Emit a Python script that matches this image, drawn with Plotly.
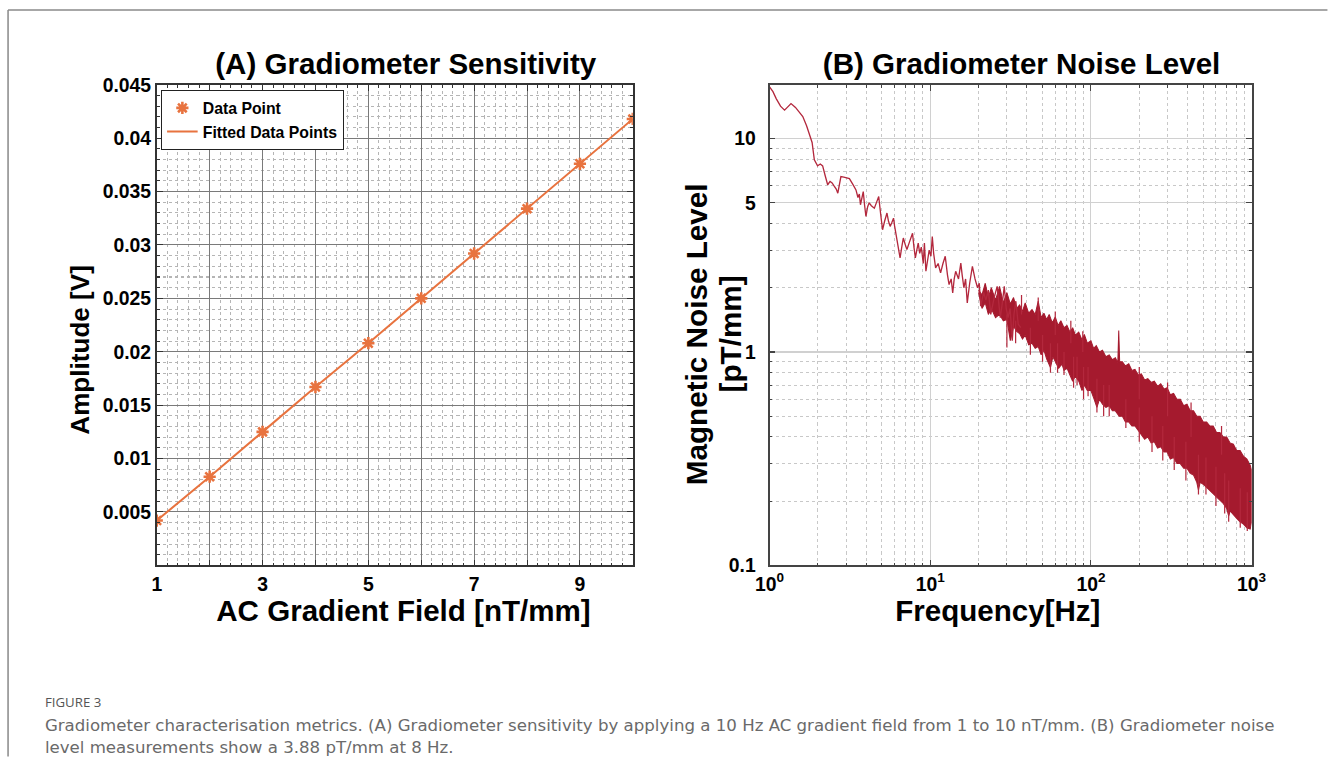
import plotly.graph_objects as go

# ---------------- data ----------------
# (A) sensitivity
field_nt_mm = [1, 2, 3, 4, 5, 6, 7, 8, 9, 10]
amplitude_v = [0.0042, 0.0083, 0.0125, 0.0167, 0.0208, 0.0250, 0.0292, 0.0334, 0.0376, 0.0418]

x_tickvals_a = [1, 2, 3, 4, 5, 6, 7, 8, 9, 10]
x_ticktext_a = ["1", "", "3", "", "5", "", "7", "", "9", ""]
y_tickvals_a = [0.005, 0.01, 0.015, 0.02, 0.025, 0.03, 0.035, 0.04, 0.045]
y_ticktext_a = ["0.005", "0.01", "0.015", "0.02", "0.025", "0.03", "0.035", "0.04", "0.045"]

# (B) noise spectrum - low frequency trace (single line)
freq_low = [1.0, 1.05, 1.1, 1.17, 1.24, 1.30, 1.36, 1.45, 1.53, 1.61, 1.70, 1.77, 1.84, 1.90, 1.95,
            1.99, 2.07, 2.14, 2.22, 2.30, 2.38, 2.45, 2.52, 2.60, 2.66, 2.72, 2.78, 2.90, 3.02, 3.14,
            3.30, 3.45, 3.55, 3.62, 3.68, 3.76, 3.83, 3.90, 3.98, 4.08, 4.17, 4.30, 4.49, 4.62, 4.78,
            4.92, 5.05, 5.20, 5.38, 5.50, 5.63, 5.77, 5.91, 6.00, 6.11, 6.30, 6.49, 6.65, 6.80, 6.98,
            7.16, 7.45, 7.76, 7.92, 8.08, 8.25, 8.42, 8.60, 8.80, 9.05, 9.2, 9.4, 9.6, 9.85, 10.1,
            10.3, 10.5, 10.8, 11.2, 11.6, 12.0, 12.4, 12.8, 13.1, 13.5, 13.8, 14.1, 14.4, 15.0, 15.5,
            15.8, 16.2, 16.6, 17.0, 17.6, 18.3, 19.0, 19.7, 20.2, 20.6, 21.5, 22.2, 23.0, 23.8, 25.0,
            26.1, 26.7, 27.3, 28.1, 28.9, 29.7, 30.5, 31.4, 32.4, 33.2, 34.1, 35.3, 36.6]
noise_low = [17.5, 16.6, 15.4, 14.2, 13.6, 14.1, 14.6, 14.0, 13.3, 12.7, 11.5, 10.4, 9.6, 7.95, 7.6,
             7.45, 7.6, 7.45, 6.7, 6.08, 6.3, 6.2, 6.0, 5.8, 5.55, 6.2, 6.64, 6.6, 6.55, 6.5,
             6.1, 5.75, 5.3, 5.5, 4.9, 5.4, 5.65, 4.9, 4.32, 4.8, 5.0, 4.85, 4.72, 5.0, 5.35,
             4.4, 3.74, 4.1, 4.48, 4.1, 3.88, 4.05, 4.24, 3.9, 3.6, 3.1, 2.76, 3.1, 3.42, 3.2,
             3.02, 3.3, 3.6, 3.1, 2.76, 3.0, 3.24, 2.9, 3.1, 2.6, 3.24, 2.39, 2.61, 3.0, 2.81,
             3.48, 2.9, 2.48, 2.6, 2.35, 2.6, 2.81, 2.3, 2.07, 2.2, 1.89, 2.2, 2.39, 2.2, 2.61,
             2.3, 2.0, 2.2, 1.70, 2.1, 2.52, 2.2, 2.0, 2.1, 1.64, 1.9, 1.75, 1.95, 1.50, 1.8,
             2.03, 1.7, 1.45, 1.7, 2.03, 1.6, 1.45, 1.6, 1.13, 1.5, 1.73, 1.35, 1.30]

# (B) dense noise band, upper envelope (ascending freq)
freq_band_upper = [20, 21, 22, 23, 24, 25.5, 27, 28.5, 30, 31.5, 33, 34.5, 36, 37.5, 39, 41, 43, 45,
                   47, 49, 51, 53, 55, 57.5, 60, 62.5, 65, 68, 71, 74, 77, 80, 84, 88, 91, 95, 100,
                   104, 108, 113, 118, 124, 130, 136, 142, 147, 149, 151, 157, 164, 172, 180, 188,
                   197, 206, 216, 226, 237, 248, 260, 272, 285, 298, 312, 327, 343, 360, 378, 396,
                   415, 435, 456, 478, 500, 525, 550, 577, 605, 635, 666, 700, 735, 770, 808, 848,
                   890, 935, 980, 1000]
noise_band_upper = [1.95, 1.85, 2.1, 1.8, 2.0, 1.75, 2.03, 1.7, 1.9, 1.68, 1.8, 1.6, 1.66, 1.55, 1.7,
                    1.52, 1.58, 1.5, 1.73, 1.45, 1.52, 1.42, 1.5, 1.37, 1.46, 1.33, 1.4, 1.3, 1.33,
                    1.24, 1.3, 1.2, 1.24, 1.14, 1.21, 1.1, 1.13, 1.04, 1.07, 1.0, 1.02, 0.95, 0.97,
                    0.92, 0.94, 0.89, 1.26, 0.9, 0.9, 0.86, 0.88, 0.82, 0.83, 0.78, 0.79, 0.74, 0.75,
                    0.72, 0.73, 0.69, 0.71, 0.67, 0.68, 0.63, 0.64, 0.6, 0.6, 0.56, 0.57, 0.53, 0.53,
                    0.5, 0.5, 0.47, 0.47, 0.45, 0.45, 0.42, 0.42, 0.4, 0.4, 0.375, 0.37, 0.345, 0.345,
                    0.325, 0.315, 0.295, 0.28]
# lower envelope (ascending freq)
freq_band_lower = [20, 21, 22, 23, 24, 25.5, 27, 28.5, 30, 31.5, 33, 34.5, 36, 37.5, 39, 41, 43, 45,
                   47, 49, 51, 53, 56, 58, 60, 63, 66, 68, 71, 74, 77, 80, 84, 88, 91, 95, 100, 104,
                   109, 113, 118, 124, 130, 136, 142, 150, 157, 164, 172, 180, 188, 197, 206, 216,
                   226, 237, 248, 260, 272, 285, 298, 312, 327, 343, 360, 378, 396, 415, 435, 456,
                   467, 478, 500, 525, 550, 577, 605, 635, 666, 700, 720, 735, 770, 808, 848, 890,
                   935, 980, 1000]
noise_band_lower = [1.9, 1.6, 1.7, 1.5, 1.6, 1.45, 1.5, 1.4, 1.42, 1.13, 1.32, 1.25, 1.22, 1.15, 1.2,
                    1.08, 1.1, 1.04, 1.06, 0.97, 1.02, 0.93, 0.845, 0.95, 0.91, 0.84, 0.88, 0.82, 0.84,
                    0.78, 0.73, 0.77, 0.73, 0.66, 0.7, 0.66, 0.66, 0.61, 0.55, 0.6, 0.57, 0.55, 0.56,
                    0.53, 0.53, 0.5, 0.5, 0.47, 0.47, 0.45, 0.45, 0.43, 0.41, 0.39, 0.4, 0.375, 0.38,
                    0.355, 0.36, 0.34, 0.34, 0.315, 0.32, 0.3, 0.3, 0.285, 0.285, 0.27, 0.265, 0.245,
                    0.225, 0.245, 0.24, 0.232, 0.225, 0.217, 0.21, 0.202, 0.195, 0.185, 0.17, 0.18, 0.172,
                    0.166, 0.16, 0.156, 0.15, 0.148, 0.16]

# (B) isolated noise spikes that stick out of the band
spike_freq = [30, 34, 37, 42, 47, 50, 56, 60, 62, 68, 75, 78, 82, 89, 90, 96, 109, 120, 130, 165,
              200, 200, 240, 280, 300, 330, 390, 420, 467, 520, 600, 650, 680, 720, 850, 940]
spike_from = [1.5, 1.4, 1.5, 1.3, 1.4, 1.2, 1.1, 1.2, 1.1, 1.0, 1.1, 0.95, 0.95, 1.0, 0.85, 0.85,
              0.75, 0.7, 0.7, 0.6, 0.55, 0.6, 0.5, 0.45, 0.5, 0.4, 0.38, 0.4, 0.33, 0.32, 0.29, 0.33,
              0.27, 0.25, 0.23, 0.22]
spike_to = [1.05, 1.1, 1.85, 0.97, 1.8, 0.9, 0.8, 1.55, 0.8, 0.78, 1.4, 0.68, 0.7, 1.25, 0.6, 0.62,
            0.52, 0.5, 0.5, 0.44, 0.38, 0.85, 0.34, 0.31, 0.72, 0.28, 0.25, 0.58, 0.215, 0.215,
            0.19, 0.45, 0.175, 0.16, 0.15, 0.145]

x_tickvals_b = [1, 10, 100, 1000]
x_ticktext_b = ["10<sup>0</sup>", "10<sup>1</sup>", "10<sup>2</sup>", "10<sup>3</sup>"]
y_tickvals_b = [0.1, 1, 5, 10]
y_ticktext_b = ["0.1", "1", "5", "10"]

# ---------------- styling ----------------
W, H = 1329, 758
FONT = "Liberation Sans, Arial, sans-serif"
ORANGE = "#E8733F"
RED_LINE = "#B3283D"
RED_BAND = "#A51A2E"


def px_x(p):
    return p / W


def px_y(p):
    return 1 - p / H


fig = go.Figure()

# (A)
fig.add_trace(go.Scatter(x=field_nt_mm, y=amplitude_v, mode="lines", name="Fitted Data Points",
                         line=dict(color=ORANGE, width=2), xaxis="x", yaxis="y", showlegend=False))
fig.add_trace(go.Scatter(x=field_nt_mm, y=amplitude_v, mode="markers", name="Data Point",
                         marker=dict(symbol="asterisk-open", size=10, color=ORANGE,
                                     line=dict(color=ORANGE, width=2.5)),
                         xaxis="x", yaxis="y"))
fig.add_trace(go.Scatter(x=[None], y=[None], mode="lines", name="Fitted Data Points",
                         line=dict(color=ORANGE, width=2), xaxis="x", yaxis="y"))

# (B) band polygon
band_x = freq_band_upper + freq_band_lower[::-1]
band_y = noise_band_upper + noise_band_lower[::-1]
fig.add_trace(go.Scatter(x=band_x, y=band_y, mode="lines", fill="toself", fillcolor=RED_BAND,
                         line=dict(color=RED_BAND, width=1), xaxis="x2", yaxis="y2",
                         showlegend=False, hoverinfo="skip"))
sx, sy = [], []
for f, a, b in zip(spike_freq, spike_from, spike_to):
    sx += [f, f, None]
    sy += [a, b, None]
fig.add_trace(go.Scatter(x=sx, y=sy, mode="lines", line=dict(color=RED_LINE, width=1.2),
                         xaxis="x2", yaxis="y2", showlegend=False, hoverinfo="skip"))
fig.add_trace(go.Scatter(x=freq_low, y=noise_low, mode="lines",
                         line=dict(color=RED_LINE, width=1.3), xaxis="x2", yaxis="y2",
                         showlegend=False))

ydom = [px_y(566), px_y(83)]
tickfont = dict(family=FONT, size=19, color="black", weight="bold")

common_a = dict(showline=True, linecolor="#333", linewidth=1.5, mirror="ticks",
                ticks="inside", ticklen=6, tickcolor="#333", tickfont=tickfont,
                showgrid=True, gridcolor="#7a7a7a", gridwidth=1, zeroline=False)

fig.update_layout(
    width=W, height=H,
    margin=dict(l=0, r=0, t=0, b=0),
    paper_bgcolor="white", plot_bgcolor="white",
    showlegend=True,
    legend=dict(x=px_x(160), y=px_y(88), xanchor="left", yanchor="top",
                bgcolor="white", bordercolor="#222", borderwidth=1.2,
                font=dict(family=FONT, size=15.5, color="black", weight="bold"),
                tracegroupgap=0, itemwidth=30),
    xaxis=dict(domain=[px_x(156), px_x(633)], range=[1, 10], anchor="y",
               tickvals=x_tickvals_a, ticktext=x_ticktext_a,
               minor=dict(dtick=0.2, ticks="inside", ticklen=3, tickcolor="#333",
                          showgrid=True, gridcolor="#b5b5b5", griddash="dot", gridwidth=1),
               **common_a),
    yaxis=dict(domain=ydom, range=[0, 0.045], anchor="x",
               tickvals=y_tickvals_a, ticktext=y_ticktext_a,
               minor=dict(dtick=0.001, ticks="inside", ticklen=3, tickcolor="#333",
                          showgrid=True, gridcolor="#b5b5b5", griddash="dot", gridwidth=1),
               **common_a),
    xaxis2=dict(domain=[px_x(770), px_x(1253)], type="log", range=[0, 3], anchor="y2",
                tickvals=x_tickvals_b, ticktext=x_ticktext_b,
                showline=True, linecolor="#444", linewidth=1.5, mirror="ticks",
                ticks="inside", ticklen=6, tickcolor="#444", tickfont=tickfont,
                showgrid=True, gridcolor="#d0d0d0", gridwidth=1.3, zeroline=False,
                minor=dict(dtick="D1", ticks="inside", ticklen=3, tickcolor="#444",
                           showgrid=True, gridcolor="#c8c8c8", griddash="dot", gridwidth=1)),
    yaxis2=dict(domain=ydom, type="log", range=[-1, 1.2526], anchor="x2",
                tickvals=y_tickvals_b, ticktext=y_ticktext_b, ticklabelstandoff=8,
                showline=True, linecolor="#444", linewidth=1.5, mirror="ticks",
                ticks="inside", ticklen=6, tickcolor="#444", tickfont=tickfont,
                showgrid=True, gridcolor="#d0d0d0", gridwidth=1.3, zeroline=False,
                minor=dict(dtick="D1", ticks="inside", ticklen=3, tickcolor="#444",
                           showgrid=True, gridcolor="#c8c8c8", griddash="dot", gridwidth=1)),
)

ann = []
bold = lambda s: dict(family=FONT, size=s, color="black", weight="bold")
ann.append(dict(text="(A) Gradiometer Sensitivity", x=px_x(406), y=px_y(62), font=bold(29)))
ann.append(dict(text="(B) Gradiometer Noise Level", x=px_x(1023), y=px_y(62), font=bold(29)))
ann.append(dict(text="AC Gradient Field [nT/mm]", x=px_x(403), y=px_y(612), font=bold(29)))
ann.append(dict(text="Frequency[Hz]", x=px_x(999), y=px_y(612), font=bold(29)))
ann.append(dict(text="Amplitude [V]", x=px_x(79), y=px_y(349), font=bold(25.5), textangle=-90))
ann.append(dict(text="Magnetic Noise Level", x=px_x(697), y=px_y(334), font=bold(29), textangle=-90))
ann.append(dict(text="[pT/mm]", x=px_x(731), y=px_y(334), font=bold(29), textangle=-90))
for a in ann:
    a.update(xref="paper", yref="paper", showarrow=False, xanchor="center", yanchor="middle")

ann.append(dict(text="FIGURE 3", x=px_x(42), y=px_y(704), xref="paper", yref="paper",
                showarrow=False, xanchor="left", yanchor="middle",
                font=dict(family="Open Sans, sans-serif", size=13, color="#555555")))
ann.append(dict(text="Gradiometer characterisation metrics. (A) Gradiometer sensitivity by applying a 10 Hz AC gradient field from 1 to 10 nT/mm. (B) Gradiometer noise"
                     "<br>level measurements show a 3.88 pT/mm at 8 Hz.",
                x=px_x(42), y=px_y(737), xref="paper", yref="paper", showarrow=False,
                xanchor="left", yanchor="middle", align="left",
                font=dict(family="DejaVu Sans, sans-serif", size=16.3, color="#6a6a6a")))
fig.update_layout(annotations=ann)

# page frame lines (left and top border)
fig.update_layout(shapes=[
    dict(type="line", xref="paper", yref="paper", x0=px_x(7), x1=1, y0=px_y(8), y1=px_y(8),
         line=dict(color="#8a8a8a", width=1.5)),
    dict(type="line", xref="paper", yref="paper", x0=px_x(7), x1=px_x(7), y0=0, y1=px_y(8),
         line=dict(color="#8a8a8a", width=1.5)),
])

# align the drawn page with the photographed frame
post = ("var gd=document.getElementById('{plot_id}');"
        "document.body.style.margin='0';"
        "gd.style.transformOrigin='0 0';"
        "gd.style.transform='translate(-13.2px,-8.1px) scale(1.0195,1.0235)';")
fig.write_html("out.html", config={"displayModeBar": False}, post_script=post)
